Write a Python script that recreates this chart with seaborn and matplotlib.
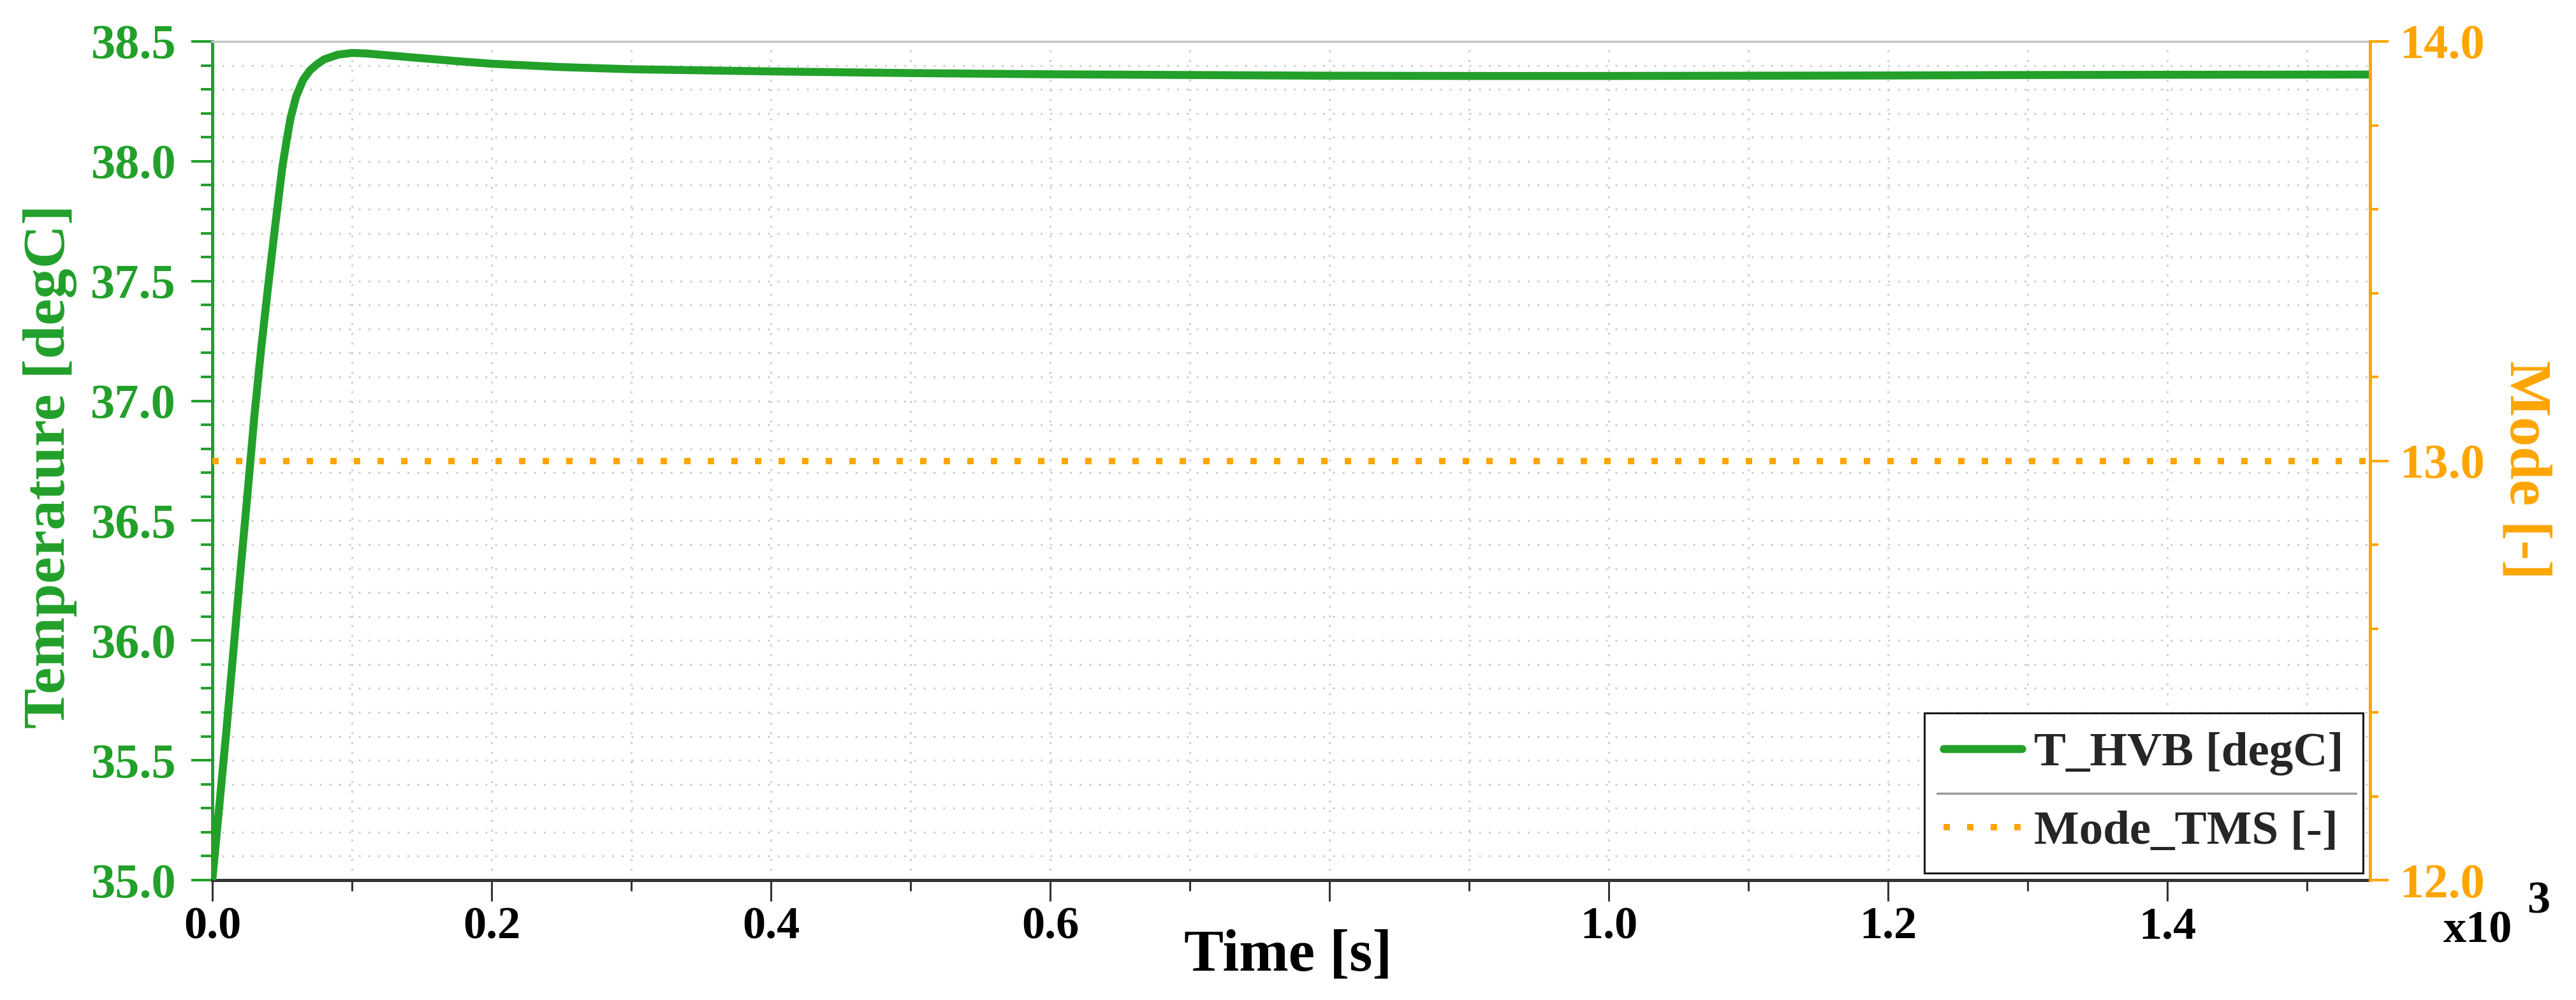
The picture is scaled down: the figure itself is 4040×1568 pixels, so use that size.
import numpy as np
import pandas as pd
import matplotlib
matplotlib.use("Agg")
import matplotlib.pyplot as plt
import seaborn as sns
from matplotlib.ticker import MultipleLocator, FixedLocator, FormatStrFormatter
from matplotlib.lines import Line2D

# battery temperature (time in seconds)
time_s = [0, 5, 10, 15, 20, 25, 30, 35, 40, 45, 50, 53, 56, 60, 65, 70, 75,
          80, 90, 100, 110, 130, 150, 175, 200, 250, 300, 400, 500, 600,
          700, 800, 900, 1000, 1100, 1200, 1300, 1400, 1545]
t_hvb = [35.00, 35.31, 35.62, 35.95, 36.28, 36.60, 36.93, 37.22, 37.48,
         37.73, 37.97, 38.08, 38.18, 38.27, 38.34, 38.38, 38.405, 38.425,
         38.445, 38.452, 38.450, 38.440, 38.430, 38.418, 38.407, 38.393,
         38.384, 38.375, 38.368, 38.363, 38.360, 38.357, 38.356, 38.356,
         38.357, 38.358, 38.360, 38.361, 38.362]

# thermal management mode
mode_time_s = [0, 1545]
mode_tms = [13.0, 13.0]

x_ticks = [0.0, 0.2, 0.4, 0.6, 0.8, 1.0, 1.2, 1.4]
x_tick_labels = ["0.0", "0.2", "0.4", "0.6", "", "1.0", "1.2", "1.4"]

GREEN = "#22A02A"
ORANGE = "#FFA500"
DARK = "#333333"

sns.set_style("white")
plt.rcParams['font.family'] = ['Liberation Serif', 'DejaVu Serif']
plt.rcParams['font.weight'] = 'bold'

W, H = 4040, 1568
fig = plt.figure(figsize=(W / 100, H / 100), dpi=100)
x0, x1, y0, y1 = 333, 3717, 65, 1380
ax = fig.add_axes([x0 / W, 1 - y1 / H, (x1 - x0) / W, (y1 - y0) / H])

df_t = pd.DataFrame({"Time": np.array(time_s) / 1000.0, "T_HVB": t_hvb})
sns.lineplot(data=df_t, x="Time", y="T_HVB", color=GREEN, linewidth=9,
             ax=ax, label="T_HVB [degC]", legend=False, zorder=5)

ax.set_xlim(0, 1.545)
ax.set_ylim(35.0, 38.5)
ax.xaxis.set_major_locator(FixedLocator(x_ticks))
ax.set_xticklabels(x_tick_labels)
ax.xaxis.set_minor_locator(MultipleLocator(0.1))
ax.yaxis.set_major_locator(MultipleLocator(0.5))
ax.yaxis.set_minor_locator(MultipleLocator(0.1))
ax.yaxis.set_major_formatter(FormatStrFormatter('%.1f'))

ax.grid(True, which='both', color='#CFCFCF', linestyle=(0, (1, 4)), linewidth=2.2)
ax.set_axisbelow(True)

ax.tick_params(axis='y', which='major', direction='out', length=24, width=2.9,
               color=GREEN, labelcolor=GREEN, labelsize=55, pad=17, left=True)
ax.tick_params(axis='y', which='minor', direction='out', length=13, width=2.9,
               color=GREEN, left=True)
ax.tick_params(axis='x', which='major', direction='out', length=24, width=2.2,
               color=DARK, labelcolor='black', labelsize=52, pad=6, bottom=True)
ax.tick_params(axis='x', which='minor', direction='out', length=12, width=2.2,
               color=DARK, bottom=True)

ax.spines['left'].set_color(GREEN)
ax.spines['left'].set_linewidth(3.6)
ax.spines['bottom'].set_color(DARK)
ax.spines['bottom'].set_linewidth(3.6)
ax.spines['top'].set_color('#C8C8C8')
ax.spines['top'].set_linewidth(2.5)
ax.spines['right'].set_visible(False)

ax.set_xlabel("Time [s]", fontsize=67, fontweight='bold', color='black')
ax.xaxis.label.set_verticalalignment('baseline')
ax.xaxis.set_label_coords(0.4985, -(1521 - y1) / (y1 - y0))

ax.set_ylabel("Temperature [degC]", fontsize=68, fontweight='bold', color=GREEN)
ax.yaxis.set_label_coords((121 - x0) / (x1 - x0), 0.493)

# right axis: mode
ax2 = ax.twinx()
df_m = pd.DataFrame({"Time": np.array(mode_time_s) / 1000.0, "Mode": mode_tms})
sns.lineplot(data=df_m, x="Time", y="Mode", color=ORANGE, linewidth=7.2,
             linestyle=(0, (1, 2.7)), dash_capstyle='butt', ax=ax2,
             label="Mode_TMS [-]", legend=False)
ax2.set_ylim(12.0, 14.0)
ax2.set_xlim(0, 1.545)
ax2.yaxis.set_major_locator(MultipleLocator(1.0))
ax2.yaxis.set_minor_locator(MultipleLocator(0.2))
ax2.yaxis.set_major_formatter(FormatStrFormatter('%.1f'))
ax2.tick_params(axis='y', which='major', direction='out', length=21, width=2.9,
                color=ORANGE, labelcolor=ORANGE, labelsize=55, pad=13, right=True)
ax2.tick_params(axis='y', which='minor', direction='out', length=9.5, width=2.9,
                color=ORANGE, right=True)
ax2.grid(False)
for s in ['left', 'top', 'bottom']:
    ax2.spines[s].set_visible(False)
ax2.spines['right'].set_color(ORANGE)
ax2.spines['right'].set_linewidth(3.6)

ax2.set_ylabel("Mode [-]", fontsize=67, fontweight='bold', color=ORANGE, rotation=-90)
ax2.yaxis.label.set_verticalalignment('bottom')
ax2.yaxis.set_label_coords((3918 - x0) / (x1 - x0), 0.489)

# legend
h1, l1 = ax.get_legend_handles_labels()
h2, l2 = ax2.get_legend_handles_labels()
leg = ax2.legend(h1 + h2, l1 + l2, loc='lower right', bbox_to_anchor=(1, 0),
                 prop={'family': ['Liberation Serif'], 'weight': 'bold', 'size': 54},
                 handlelength=1.65, handletextpad=0.25, borderpad=0.4,
                 labelspacing=0.72, borderaxespad=0.15, fancybox=False,
                 framealpha=1.0, edgecolor='#1A1A1A')
leg.get_frame().set_linewidth(2.2)
leg.set_zorder(20)

# separator between the two legend entries
fig.canvas.draw()
inv = fig.transFigure.inverted()
lb = leg.get_window_extent()
t1 = leg.get_texts()[0].get_window_extent()
t2 = leg.get_texts()[1].get_window_extent()
ymid = (t1.y0 + t2.y1) / 2
(fx0, fy), = inv.transform([(lb.x0 + 0.03 * lb.width, ymid)])
(fx1, _), = inv.transform([(lb.x1 - 0.015 * lb.width, ymid)])
fig.add_artist(Line2D([fx0, fx1], [fy, fy], color='#9A9A9A', linewidth=2.5, zorder=30))

# axis multiplier
fig.text(3832 / W, 1 - 1478 / H, "x10", ha='left', va='baseline',
         fontsize=52, fontweight='bold', color='black')
fig.text(3963 / W, 1 - 1431 / H, "3", ha='left', va='baseline',
         fontsize=52, fontweight='bold', color='black')

fig.savefig("out.png", dpi=100, facecolor='white')
